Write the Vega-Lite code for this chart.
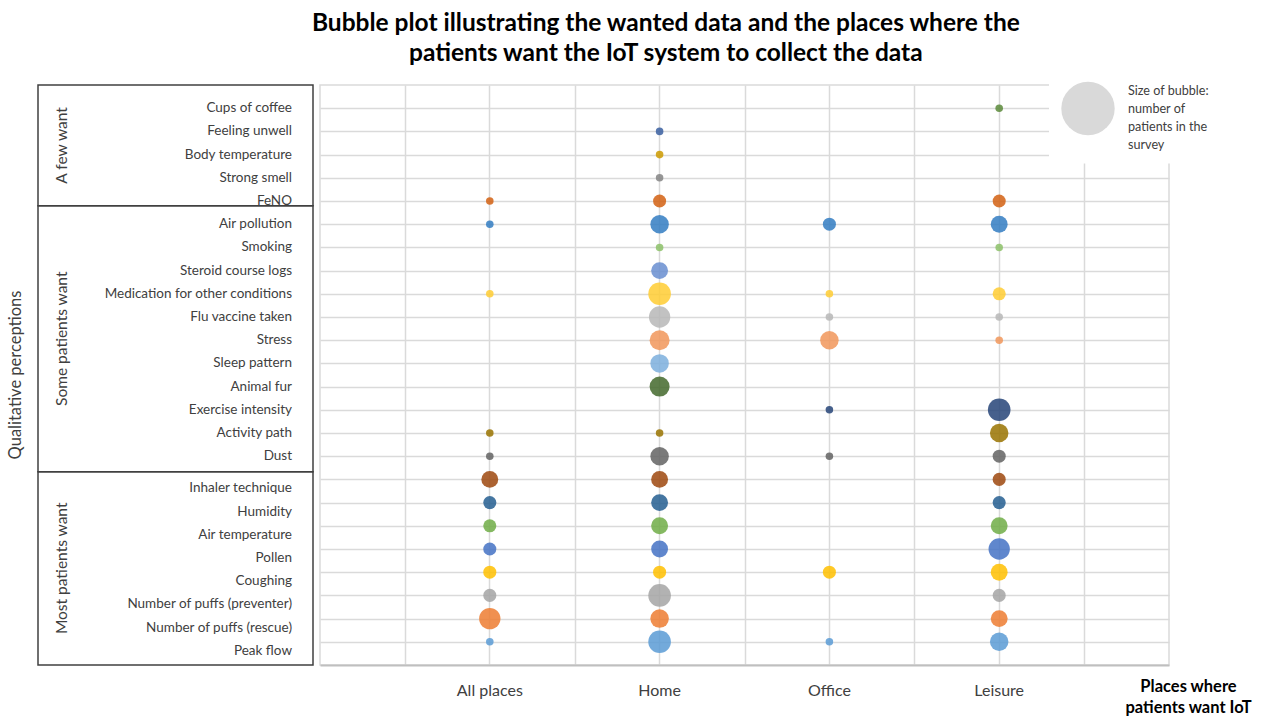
{
  "$schema": "https://vega.github.io/schema/vega-lite/v6.json",
  "background": "white",
  "padding": {"left": 7, "top": 11, "right": 5, "bottom": 5},
  "config": {"font": "Lato", "view": {"stroke": null}},
  "title": {
    "text": ["Bubble plot illustrating the wanted data and the places where the", "patients want the IoT system to collect the data"],
    "font": "Lato", "fontSize": 24.5, "fontWeight": "bold", "color": "#000000",
    "lineHeight": 30, "anchor": "middle", "dx": 36, "offset": 3
  },
  "datasets": {
    "groups": [
      {"group": "A few want", "level": 1, "items": 5},
      {"group": "Some patients want", "level": 2, "items": 11},
      {"group": "Most patients want", "level": 3, "items": 8}
    ],
    "items": [
      {"item": "Cups of coffee", "group": "A few want"},
      {"item": "Feeling unwell", "group": "A few want"},
      {"item": "Body temperature", "group": "A few want"},
      {"item": "Strong smell", "group": "A few want"},
      {"item": "FeNO", "group": "A few want"},
      {"item": "Air pollution", "group": "Some patients want"},
      {"item": "Smoking", "group": "Some patients want"},
      {"item": "Steroid course logs", "group": "Some patients want"},
      {"item": "Medication for other conditions", "group": "Some patients want"},
      {"item": "Flu vaccine taken", "group": "Some patients want"},
      {"item": "Stress", "group": "Some patients want"},
      {"item": "Sleep pattern", "group": "Some patients want"},
      {"item": "Animal fur", "group": "Some patients want"},
      {"item": "Exercise intensity", "group": "Some patients want"},
      {"item": "Activity path", "group": "Some patients want"},
      {"item": "Dust", "group": "Some patients want"},
      {"item": "Inhaler technique", "group": "Most patients want"},
      {"item": "Humidity", "group": "Most patients want"},
      {"item": "Air temperature", "group": "Most patients want"},
      {"item": "Pollen", "group": "Most patients want"},
      {"item": "Coughing", "group": "Most patients want"},
      {"item": "Number of puffs (preventer)", "group": "Most patients want"},
      {"item": "Number of puffs (rescue)", "group": "Most patients want"},
      {"item": "Peak flow", "group": "Most patients want"}
    ],
    "bubbles": [
      {"item": "FeNO", "place": "All places", "patients": 1},
      {"item": "Air pollution", "place": "All places", "patients": 1},
      {"item": "Medication for other conditions", "place": "All places", "patients": 1},
      {"item": "Activity path", "place": "All places", "patients": 1},
      {"item": "Dust", "place": "All places", "patients": 1},
      {"item": "Inhaler technique", "place": "All places", "patients": 5},
      {"item": "Humidity", "place": "All places", "patients": 3},
      {"item": "Air temperature", "place": "All places", "patients": 3},
      {"item": "Pollen", "place": "All places", "patients": 3},
      {"item": "Coughing", "place": "All places", "patients": 3},
      {"item": "Number of puffs (preventer)", "place": "All places", "patients": 3},
      {"item": "Number of puffs (rescue)", "place": "All places", "patients": 8},
      {"item": "Peak flow", "place": "All places", "patients": 1},
      {"item": "Feeling unwell", "place": "Home", "patients": 1},
      {"item": "Body temperature", "place": "Home", "patients": 1},
      {"item": "Strong smell", "place": "Home", "patients": 1},
      {"item": "FeNO", "place": "Home", "patients": 3},
      {"item": "Air pollution", "place": "Home", "patients": 6},
      {"item": "Smoking", "place": "Home", "patients": 1},
      {"item": "Steroid course logs", "place": "Home", "patients": 5},
      {"item": "Medication for other conditions", "place": "Home", "patients": 9},
      {"item": "Flu vaccine taken", "place": "Home", "patients": 8},
      {"item": "Stress", "place": "Home", "patients": 7},
      {"item": "Sleep pattern", "place": "Home", "patients": 6},
      {"item": "Animal fur", "place": "Home", "patients": 7},
      {"item": "Activity path", "place": "Home", "patients": 1},
      {"item": "Dust", "place": "Home", "patients": 6},
      {"item": "Inhaler technique", "place": "Home", "patients": 5},
      {"item": "Humidity", "place": "Home", "patients": 5},
      {"item": "Air temperature", "place": "Home", "patients": 5},
      {"item": "Pollen", "place": "Home", "patients": 5},
      {"item": "Coughing", "place": "Home", "patients": 3},
      {"item": "Number of puffs (preventer)", "place": "Home", "patients": 9},
      {"item": "Number of puffs (rescue)", "place": "Home", "patients": 6},
      {"item": "Peak flow", "place": "Home", "patients": 9},
      {"item": "Air pollution", "place": "Office", "patients": 3},
      {"item": "Medication for other conditions", "place": "Office", "patients": 1},
      {"item": "Flu vaccine taken", "place": "Office", "patients": 1},
      {"item": "Stress", "place": "Office", "patients": 6},
      {"item": "Exercise intensity", "place": "Office", "patients": 1},
      {"item": "Dust", "place": "Office", "patients": 1},
      {"item": "Coughing", "place": "Office", "patients": 3},
      {"item": "Peak flow", "place": "Office", "patients": 1},
      {"item": "Cups of coffee", "place": "Leisure", "patients": 1},
      {"item": "FeNO", "place": "Leisure", "patients": 3},
      {"item": "Air pollution", "place": "Leisure", "patients": 5},
      {"item": "Smoking", "place": "Leisure", "patients": 1},
      {"item": "Medication for other conditions", "place": "Leisure", "patients": 3},
      {"item": "Flu vaccine taken", "place": "Leisure", "patients": 1},
      {"item": "Stress", "place": "Leisure", "patients": 1},
      {"item": "Exercise intensity", "place": "Leisure", "patients": 9},
      {"item": "Activity path", "place": "Leisure", "patients": 6},
      {"item": "Dust", "place": "Leisure", "patients": 3},
      {"item": "Inhaler technique", "place": "Leisure", "patients": 3},
      {"item": "Humidity", "place": "Leisure", "patients": 3},
      {"item": "Air temperature", "place": "Leisure", "patients": 5},
      {"item": "Pollen", "place": "Leisure", "patients": 8},
      {"item": "Coughing", "place": "Leisure", "patients": 5},
      {"item": "Number of puffs (preventer)", "place": "Leisure", "patients": 3},
      {"item": "Number of puffs (rescue)", "place": "Leisure", "patients": 5},
      {"item": "Peak flow", "place": "Leisure", "patients": 6}
    ]
  },
  "spacing": 5,
  "hconcat": [
    {
      "width": 275,
      "height": 580,
      "title": {"text": "Qualitative perceptions", "orient": "left", "font": "Lato", "fontSize": 16.5, "fontWeight": "normal", "color": "#404040", "offset": 13, "anchor": "middle"},
      "layer": [
        {
          "data": {"name": "groups"},
          "transform": [{"stack": "items", "groupby": [], "sort": [{"field": "level", "order": "ascending"}], "as": ["y0", "y1"]}],
          "mark": {"type": "rect", "fill": "transparent", "stroke": "#404040", "strokeWidth": 1.5},
          "encoding": {
            "y": {"field": "y0", "type": "quantitative", "scale": {"domain": [0, 24], "reverse": true, "nice": false, "zero": true}, "axis": null},
            "y2": {"field": "y1"}
          }
        },
        {
          "data": {"name": "groups"},
          "mark": {"type": "text", "angle": 270, "dy": -113.5, "font": "Lato", "fontSize": 15.5, "color": "#404040", "baseline": "middle", "align": "center"},
          "encoding": {
            "y": {"field": "items", "type": "quantitative", "stack": "zero", "bandPosition": 0.5, "scale": {"domain": [0, 24], "reverse": true, "nice": false, "zero": true}, "axis": null},
            "order": {"field": "level", "type": "quantitative", "sort": "ascending"},
            "text": {"field": "group"}
          }
        },
        {
          "data": {"name": "items"},
          "transform": [{"filter": "datum.group !== 'Most patients want'"}],
          "mark": {"type": "text", "align": "right", "baseline": "middle", "dx": 116.5, "dy": 0, "font": "Lato", "fontSize": 13.5, "color": "#404040"},
          "encoding": {
            "y": {"field": "item", "type": "nominal", "scale": {"type": "point", "padding": 1, "domain": ["Cups of coffee","Feeling unwell","Body temperature","Strong smell","FeNO","Air pollution","Smoking","Steroid course logs","Medication for other conditions","Flu vaccine taken","Stress","Sleep pattern","Animal fur","Exercise intensity","Activity path","Dust","Inhaler technique","Humidity","Air temperature","Pollen","Coughing","Number of puffs (preventer)","Number of puffs (rescue)","Peak flow"]}, "axis": null},
            "text": {"field": "item"}
          }
        },
        {
          "data": {"name": "items"},
          "transform": [{"filter": "datum.group === 'Most patients want'"}],
          "mark": {"type": "text", "align": "right", "baseline": "middle", "dx": 116.5, "dy": 9, "font": "Lato", "fontSize": 13.5, "color": "#404040"},
          "encoding": {
            "y": {"field": "item", "type": "nominal", "scale": {"type": "point", "padding": 1, "domain": ["Cups of coffee","Feeling unwell","Body temperature","Strong smell","FeNO","Air pollution","Smoking","Steroid course logs","Medication for other conditions","Flu vaccine taken","Stress","Sleep pattern","Animal fur","Exercise intensity","Activity path","Dust","Inhaler technique","Humidity","Air temperature","Pollen","Coughing","Number of puffs (preventer)","Number of puffs (rescue)","Peak flow"]}, "axis": null},
            "text": {"field": "item"}
          }
        }
      ],
      "resolve": {"scale": {"y": "independent"}}
    },
    {
      "width": 849,
      "height": 580,
      "view": {"stroke": "#dadada", "strokeWidth": 1.5},
      "data": {"name": "bubbles"},
      "layer": [
        {
          "mark": {"type": "circle", "opacity": 0.85},
          "encoding": {
            "x": {
              "field": "place", "type": "nominal",
              "scale": {"type": "band", "domain": ["All places", "Home", "Office", "Leisure"], "paddingInner": 0, "paddingOuter": 0.5},
              "axis": {
                "labelFont": "Lato", "labelFontSize": 16, "labelColor": "#404040", "labelPadding": 17, "labelAngle": 0,
                "ticks": false, "tickSize": 0, "domainColor": "#bfbfbf", "domainWidth": 2,
                "grid": true, "gridColor": "#dadada", "gridWidth": 1.5, "bandPosition": 0.5,
                "title": ["Places where", "patients want IoT"], "titleFont": "Lato", "titleFontSize": 16.5, "titleFontWeight": "bold", "titleColor": "#000000",
                "titleX": 868, "titleY": 13, "titleBaseline": "top", "titleAlign": "center", "titleLineHeight": 21, "titleAngle": 0
              }
            },
            "y": {
              "field": "item", "type": "nominal",
              "scale": {"type": "point", "padding": 1, "domain": ["Cups of coffee","Feeling unwell","Body temperature","Strong smell","FeNO","Air pollution","Smoking","Steroid course logs","Medication for other conditions","Flu vaccine taken","Stress","Sleep pattern","Animal fur","Exercise intensity","Activity path","Dust","Inhaler technique","Humidity","Air temperature","Pollen","Coughing","Number of puffs (preventer)","Number of puffs (rescue)","Peak flow"]},
              "axis": {"labels": false, "ticks": false, "domain": false, "grid": true, "gridColor": "#dadada", "gridWidth": 1.5, "title": null}
            },
            "size": {
              "field": "patients", "type": "quantitative",
              "scale": {"type": "linear", "domain": [0, 50], "range": [0, 2850], "zero": true},
              "legend": {
                "values": [50],
                "title": ["Size of bubble:", "number of", "patients in the", "survey"],
                "titleOrient": "right", "titleFont": "Lato", "titleFontSize": 12.6, "titleFontWeight": "normal", "titleColor": "#404040",
                "titleLineHeight": 18, "titleBaseline": "line-top", "titleAnchor": "start", "titlePadding": 13,
                "labelExpr": "''", "labelOffset": 0,
                "symbolType": "circle", "symbolFillColor": "#d9d9d9", "symbolStrokeWidth": 0, "symbolOpacity": 1,
                "orient": "none", "legendX": 1011, "legendY": -15.5, "fillColor": "white", "padding": 12
              }
            },
            "color": {
              "field": "item", "type": "nominal",
              "scale": {
                "domain": ["Cups of coffee","Feeling unwell","Body temperature","Strong smell","FeNO","Air pollution","Smoking","Steroid course logs","Medication for other conditions","Flu vaccine taken","Stress","Sleep pattern","Animal fur","Exercise intensity","Activity path","Dust","Inhaler technique","Humidity","Air temperature","Pollen","Coughing","Number of puffs (preventer)","Number of puffs (rescue)","Peak flow"],
                "range": ["#5A8A39","#3A5FA0","#CC9A00","#848484","#D26012","#327DC2","#8CC168","#698ED0","#FFCD33","#B7B7B7","#F1975A","#7CAFDD","#43682B","#264478","#997300","#636363","#9E480E","#255E91","#70AD47","#4472C4","#FFC000","#A5A5A5","#ED7D31","#5B9BD5"]
              },
              "legend": null
            }
          }
        },
        {
          "mark": {"type": "point", "opacity": 0},
          "encoding": {
            "x": {
              "field": "place", "type": "nominal",
              "axis": {"tickBand": "extent", "labels": false, "ticks": false, "domain": false, "grid": true, "gridColor": "#dadada", "gridWidth": 1.5, "title": null}
            },
            "y": {"field": "item", "type": "nominal"}
          }
        }
      ],
      "resolve": {"axis": {"x": "independent"}}
    }
  ]
}
